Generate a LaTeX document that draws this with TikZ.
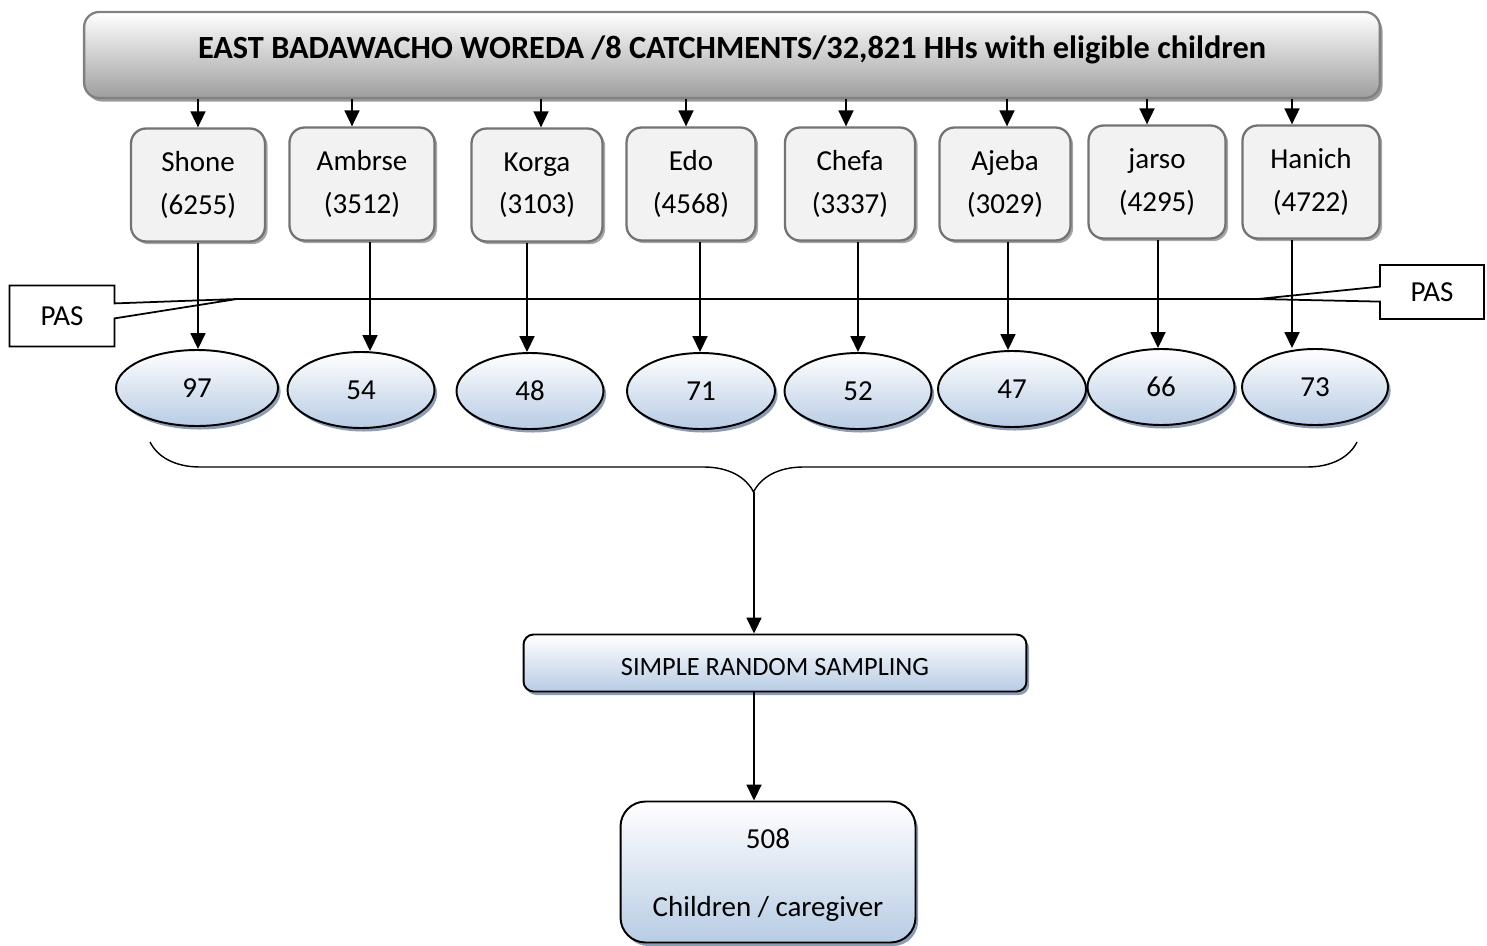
\documentclass[tikz,border=0pt]{standalone}
\usepackage{fontspec}
\setmainfont{Carlito}
\usepackage{tikz}
\usetikzlibrary{shapes}
\usetikzlibrary{shapes.callouts}
\usetikzlibrary{shadows}
\usetikzlibrary{arrows.meta}
\usetikzlibrary{decorations.pathreplacing}
\definecolor{lblue}{HTML}{B8CCE4}
\definecolor{shblue}{HTML}{8D9CB3}

\begin{document}
\begin{tikzpicture}[x=0.02cm, y=-0.02cm, line width=1pt, >={Triangle[length=3.2mm, width=3mm]},
    every node/.style={inner sep=0pt, align=center, font=\fontsize{16.5}{24}\selectfont},
    woreda/.style={rectangle, rounded corners=3mm, draw=black!50, line width=1.3pt,
      top color=white, bottom color=black!38, minimum width=25.92cm, minimum height=1.72cm,
      drop shadow={shadow xshift=1.5pt, shadow yshift=-2pt, fill=black!40, opacity=1}},
    catch/.style={rectangle, rounded corners=3mm, draw=black!55, line width=1.3pt, fill=black!5,
      minimum height=2.26cm,
      drop shadow={shadow xshift=1.5pt, shadow yshift=-1.5pt, fill=black!35, opacity=1}},
    pa/.style={ellipse, draw=black, line width=1.1pt, top color=white, bottom color=lblue,
      minimum height=1.52cm,
      drop shadow={shadow xshift=1.5pt, shadow yshift=-2pt, fill=shblue, opacity=1}},
    pas/.style={rectangle callout, draw=black, line width=1pt, fill=white, callout pointer width=0.3cm},
    bluebox/.style={rectangle, draw=black, line width=1.1pt, top color=white, bottom color=lblue,
      drop shadow={shadow xshift=1.5pt, shadow yshift=-2pt, fill=shblue, opacity=1}}]

  \useasboundingbox (0,0) rectangle (1487,946);

  \node[woreda, font=\bfseries\fontsize{18.4}{22}\selectfont, text height=13pt, text depth=9pt] (woreda) at (732,55)
    {EAST BADAWACHO WOREDA /8 CATCHMENTS/32,821 HHs with eligible children};

  \foreach \i/\x/\y/\w/\nm/\hh/\a in {1/198/185/2.68/Shone/6255/198, 2/362/184/2.9/Ambrse/3512/352,
      3/537/185/2.62/Korga/3103/541, 4/691/184/2.58/Edo/4568/686, 5/850/184/2.6/Chefa/3337/846,
      6/1005/184/2.62/Ajeba/3029/1007, 7/1157/182/2.74/jarso/4295/1147, 8/1311/182/2.74/Hanich/4722/1292}
  {
    \node[catch, minimum width=\w cm] (c\i) at (\x,\y) {\nm\\(\hh)};
    \coordinate (a\i) at (\a,0);
    \draw[->] (woreda.south -| a\i) -- (c\i.north -| a\i);
  }

  \coordinate (tl) at (237,299);
  \coordinate (tr) at (1258,299);
  \node[pas, minimum width=2.1cm, minimum height=1.22cm, callout absolute pointer={(tl)}] (pasL) at (62,316) {PAS};
  \node[pas, minimum width=2.08cm, minimum height=1.08cm, callout absolute pointer={(tr)}] (pasR) at (1432,292) {PAS};
  \draw (tl) -- (tr);

  \foreach \i/\x/\y/\w/\cnt/\a in {1/197/388/3.24/97/198, 2/361/390/2.94/54/370, 3/530/391/2.94/48/527,
      4/701/391/2.96/71/700, 5/858/391/2.94/52/858, 6/1012/389/2.96/47/1008,
      7/1161/387/2.94/66/1158, 8/1315/387/2.92/73/1292}
  {
    \node[pa, minimum width=\w cm] (p\i) at (\x,\y) {\cnt};
    \coordinate (d\i) at (\a,0);
    \draw[->] (c\i.south -| d\i) -- (p\i.north -| d\i);
  }

  \coordinate (bl) at (150,442);
  \coordinate (br) at (1357,442);
  \coordinate (tip) at (754,492);
  \draw[decorate, decoration={brace, mirror, amplitude=1cm}, line width=0.8pt] (bl) -- (br);

  \node[bluebox, rounded corners=2mm, minimum width=10.06cm, minimum height=1.14cm,
    font=\fontsize{15}{18}\selectfont, text height=14pt, text depth=0pt] (srs) at (775,663) {SIMPLE RANDOM SAMPLING};
  \node[bluebox, rounded corners=5mm, minimum width=5.9cm, minimum height=2.82cm] (res) at (768,872)
    {\rule{0pt}{15pt}508\\[15pt]Children / caregiver};

  \path[->] (tip) edge (srs.north -| tip)
            (srs.south -| tip) edge (res.north -| tip);
\end{tikzpicture}
\end{document}
